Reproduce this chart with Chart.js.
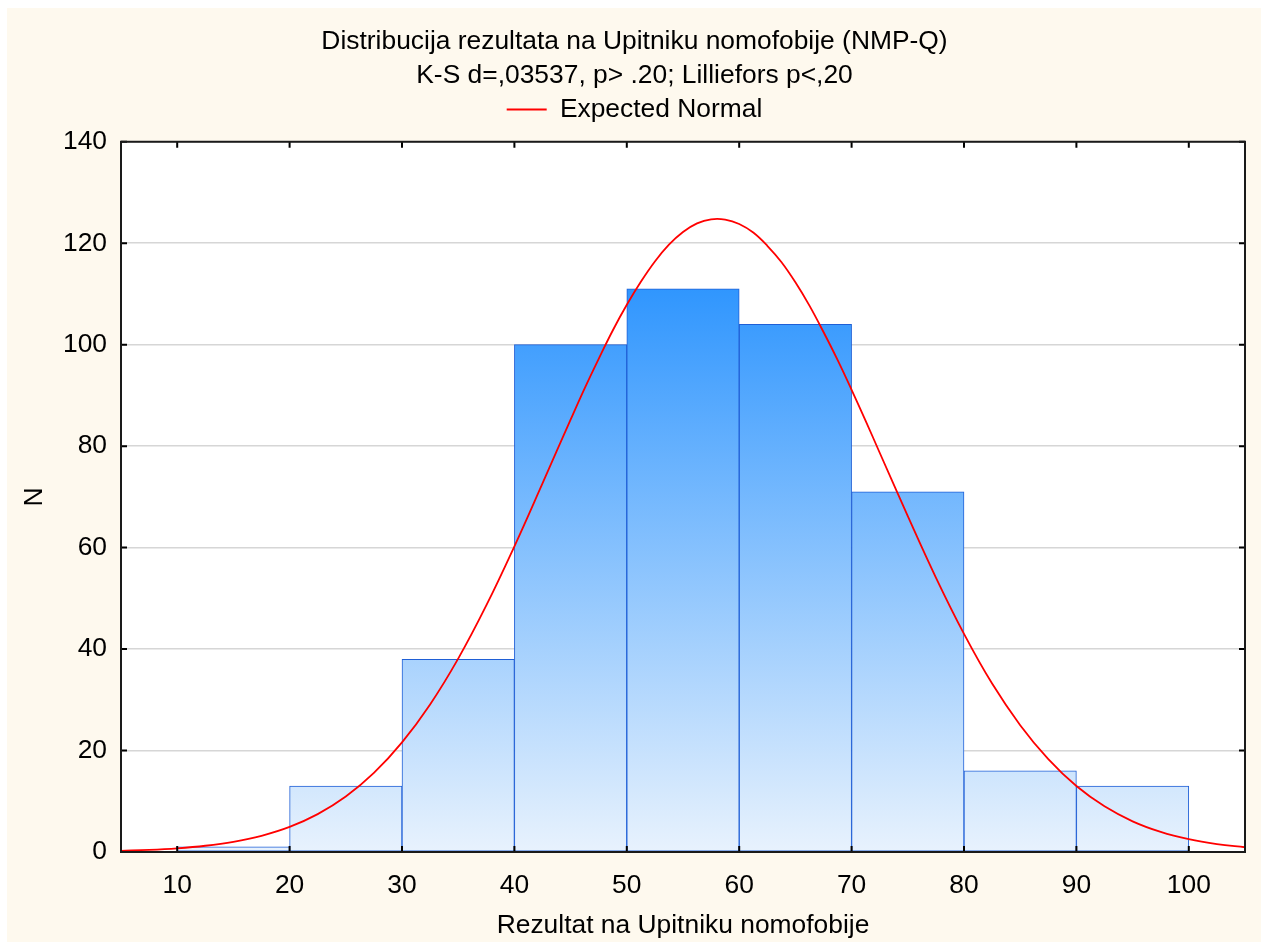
<!DOCTYPE html>
<html><head><meta charset="utf-8">
<script src="https://cdn.jsdelivr.net/npm/chart.js@4.4.1/dist/chart.umd.min.js"></script>
<style>html,body{margin:0;padding:0;background:#fff;} #wrap{width:1269px;height:945px;}</style>
</head><body><div id="wrap"><canvas id="c" width="1269" height="945"></canvas></div>
<script>
const titleLine1 = 'Distribucija rezultata na Upitniku nomofobije (NMP-Q)';
const titleLine2 = 'K-S d=,03537, p> .20; Lilliefors p<,20';
const legendLabel = 'Expected Normal';
const xTitle = 'Rezultat na Upitniku nomofobije';
const yTitle = 'N';

const binCenters = [15, 25, 35, 45, 55, 65, 75, 85, 95];
const binCounts  = [1, 13, 38, 100, 111, 104, 71, 16, 13];

const normalX = [5, 7.5, 10, 12.5, 15, 17.5, 20, 22.5, 25, 27.5, 30, 32.5, 35, 37.5, 40, 42.5, 45, 46.25, 47.5, 48.75, 50, 51.25, 52.5, 53.75, 55, 56.25, 57.5, 58.75, 60, 61.25, 62.5, 63.75, 65, 66.25, 67.5, 68.75, 70, 71.25, 72.5, 75, 77.5, 80, 82.5, 85, 87.5, 90, 92.5, 95, 97.5, 100, 102.5, 105];
const normalY = [0.24, 0.42, 0.73, 1.23, 2.01, 3.2, 4.95, 7.47, 10.93, 15.58, 21.6, 29.09, 38.12, 48.6, 60.26, 72.67, 85.23, 91.4, 97.22, 102.8, 107.86, 112.4, 116.4, 119.7, 122.2, 123.9, 124.7, 124.65, 123.8, 122.1, 119.5, 116.3, 112.3, 107.7, 102.5, 97.0, 91.1, 85.0, 78.7, 66.2, 54.1, 43.0, 33.2, 25.0, 18.3, 13.0, 9.0, 6.05, 3.96, 2.52, 1.56, 0.94];

const xTicks = [10, 20, 30, 40, 50, 60, 70, 80, 90, 100];
const yTicks = [0, 20, 40, 60, 80, 100, 120, 140];

const FS = 26.4;
Chart.defaults.font.family = '"Liberation Sans", Arial, sans-serif';
Chart.defaults.font.size = FS;
Chart.defaults.color = '#000';

const framePlugin = {
  id: 'frame',
  beforeDraw(chart) {
    const c = chart.ctx, a = chart.chartArea;
    c.save();
    c.fillStyle = '#ffffff';
    c.fillRect(0, 0, chart.width, chart.height);
    c.fillStyle = '#fef9ee';
    c.fillRect(7, 8, 1254, 934);
    c.fillStyle = '#ffffff';
    c.fillRect(a.left, a.top, a.right - a.left, a.bottom - a.top);
    c.restore();
  },
  afterDatasetsDraw(chart) {
    const c = chart.ctx, a = chart.chartArea;
    const xs = chart.scales.x, ys = chart.scales.y;
    c.save();
    c.strokeStyle = '#000';
    c.lineWidth = 2;
    c.beginPath();
    yTicks.forEach(v => {
      const p = ys.getPixelForValue(v);
      c.moveTo(a.left, p); c.lineTo(a.left + 6, p);
      c.moveTo(a.right, p); c.lineTo(a.right - 6, p);
    });
    xTicks.forEach(v => {
      const p = xs.getPixelForValue(v);
      c.moveTo(p, a.bottom); c.lineTo(p, a.bottom - 6);
      c.moveTo(p, a.top); c.lineTo(p, a.top + 6);
    });
    c.stroke();
    c.strokeStyle = '#1a1a1a';
    c.strokeRect(a.left, a.top, a.right - a.left, a.bottom - a.top);
    c.restore();
  }
};

function barGradient(ctx) {
  const chart = ctx.chart, a = chart.chartArea;
  if (!a) return '#7ab8fb';
  const top = chart.scales.y.getPixelForValue(Math.max(...binCounts));
  const g = chart.ctx.createLinearGradient(0, top, 0, a.bottom);
  g.addColorStop(0, '#3096fe');
  g.addColorStop(1, '#e8f2fd');
  return g;
}

new Chart(document.getElementById('c'), {
  type: 'bar',
  data: {
    datasets: [
      {
        type: 'line',
        label: legendLabel,
        data: normalX.map((x, i) => ({x: x, y: normalY[i]})),
        borderColor: '#ff0000',
        backgroundColor: '#ff0000',
        borderWidth: 1.8,
        pointRadius: 0,
        tension: 0.4,
        order: 0
      },
      {
        type: 'bar',
        label: 'hist',
        data: binCenters.map((x, i) => ({x: x, y: binCounts[i]})),
        backgroundColor: barGradient,
        borderColor: '#1f5fd6',
        borderWidth: 1,
        borderSkipped: false,
        barPercentage: 1,
        categoryPercentage: 1,
        order: 1
      }
    ]
  },
  options: {
    responsive: false,
    animation: false,
    devicePixelRatio: 1,
    layout: { padding: 0 },
    plugins: {
      title: { display: true, text: titleLine1, font: {size: FS, weight: 'normal'}, padding: {top: 26, bottom: 0} },
      subtitle: { display: true, text: titleLine2, font: {size: FS}, color: '#000', padding: {top: 2, bottom: 0} },
      legend: {
        display: true,
        labels: {
          boxWidth: 40, boxHeight: 2, padding: 5,
          font: {size: FS},
          filter: item => item.text === legendLabel,
          generateLabels: chart => [{ text: legendLabel, fillStyle: '#ff0000', strokeStyle: '#ff0000', lineWidth: 0, datasetIndex: 0 }]
        }
      },
      tooltip: { enabled: false }
    },
    scales: {
      x: {
        type: 'linear', position: 'bottom', min: 5, max: 105, offset: false,
        afterBuildTicks: s => { s.ticks = xTicks.map(v => ({value: v})); },
        afterFit: s => { s.height = 93; },
        ticks: { padding: 18, font: {size: FS} },
        grid: { display: false, drawTicks: false, offset: false },
        border: { display: false },
        title: { display: true, text: xTitle, font: {size: FS}, padding: {top: 0, bottom: 3} }
      },
      xTop: {
        type: 'linear', position: 'top', display: true,
        afterFit: s => { s.height = 9; },
        ticks: { display: false }, grid: { display: false, drawTicks: false }, border: { display: false }
      },
      y: {
        type: 'linear', position: 'left', min: 0, max: 140,
        afterBuildTicks: s => { s.ticks = yTicks.map(v => ({value: v})); },
        afterFit: s => { s.width = 121; },
        ticks: { padding: 14, font: {size: FS} },
        grid: { color: '#d6d6d6', lineWidth: 1.5, drawTicks: false },
        border: { display: false },
        title: { display: true, text: yTitle, font: {size: FS}, padding: {top: 19, bottom: 0} }
      },
      yRight: {
        type: 'linear', position: 'right', display: true,
        afterFit: s => { s.width = 24; },
        ticks: { display: false }, grid: { display: false, drawTicks: false }, border: { display: false }
      }
    }
  },
  plugins: [framePlugin]
});
</script>
</body></html>
